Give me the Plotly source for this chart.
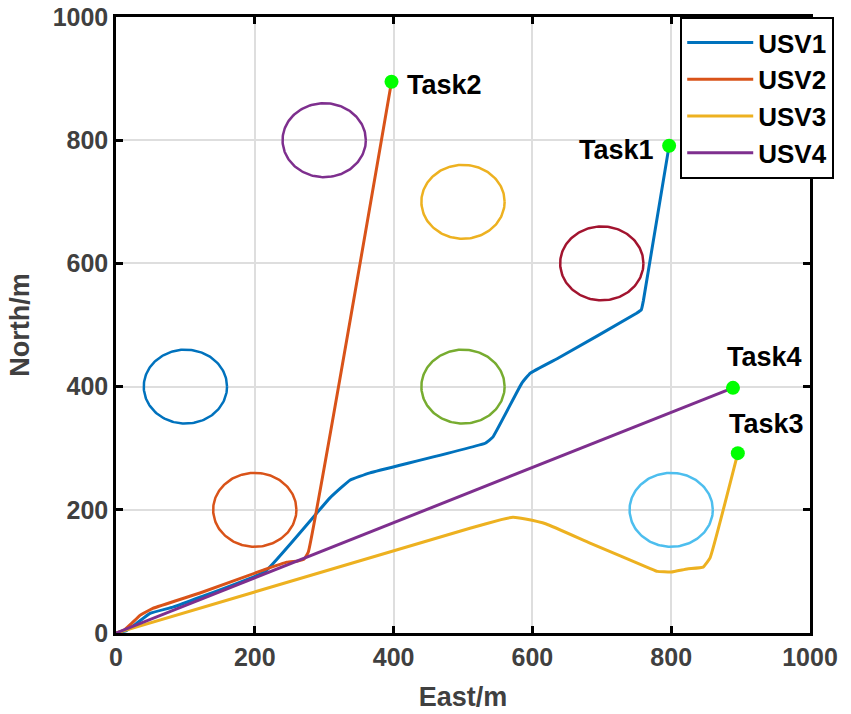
import numpy as np
import plotly.graph_objects as go

# Vehicle trajectories (East, North) in metres
usv1_x = [0, 15, 30, 49, 82, 121, 215, 308, 337, 366, 532, 543, 585, 597, 640, 750, 757, 760, 797]
usv1_y = [0, 4, 16, 32, 42, 58, 100, 219, 248, 260, 308, 318, 406, 422, 448, 519, 525, 540, 791]

usv2_x = [0, 12, 23, 35, 53, 121, 212, 246, 262, 271, 277, 397]
usv2_y = [0, 5, 16, 29, 40, 65, 102, 115, 117, 120, 131, 895]

usv3_x = [0, 510, 555, 572, 590, 620, 683, 769, 780, 800, 823, 846, 856, 896]
usv3_y = [0, 170, 184, 188, 185, 177, 146, 105, 100, 99, 104, 107, 122, 292]

usv4_x = [0, 889]
usv4_y = [0, 398]

# Task points
task_names = ["Task1", "Task2", "Task3", "Task4"]
task_x = [797, 397, 896, 889]
task_y = [791, 895, 292, 398]

# Circular obstacles: centres, radius, colours
obs_x = [100, 200, 300, 500, 500, 700, 800]
obs_y = [400, 200, 800, 700, 400, 600, 200]
obs_r = [60, 60, 60, 60, 60, 60, 60]
obs_colors = ["#0072BD", "#D95319", "#7E2F8E", "#EDB120", "#77AC30", "#A2142F", "#4DBEEE"]

usv_colors = ["#0072BD", "#D95319", "#EDB120", "#7E2F8E"]

FONT = "Liberation Sans, Arial, sans-serif"

fig = go.Figure()

theta = np.linspace(0, 2 * np.pi, 181)
for cx, cy, r, c in zip(obs_x, obs_y, obs_r, obs_colors):
    fig.add_trace(go.Scatter(
        x=cx + r * np.cos(theta), y=cy + r * np.sin(theta),
        mode="lines", line=dict(color=c, width=2.5),
        showlegend=False, hoverinfo="skip"))

paths = [(usv1_x, usv1_y), (usv2_x, usv2_y), (usv3_x, usv3_y), (usv4_x, usv4_y)]
for i, ((px, py), c) in enumerate(zip(paths, usv_colors)):
    fig.add_trace(go.Scatter(
        x=px, y=py, mode="lines", name=f"<b>USV{i + 1}</b>",
        line=dict(color=c, width=3, shape="spline", smoothing=0.3)))

fig.add_trace(go.Scatter(
    x=task_x, y=task_y, mode="markers",
    marker=dict(color="#00FF00", size=14),
    showlegend=False))

label_offsets = {
    "Task1": dict(xanchor="right", xshift=-13, yshift=-4),
    "Task2": dict(xanchor="left", xshift=13, yshift=-3),
    "Task3": dict(xanchor="center", xshift=29, yshift=29),
    "Task4": dict(xanchor="center", xshift=32, yshift=31),
}
for name, tx, ty in zip(task_names, task_x, task_y):
    fig.add_annotation(
        x=tx, y=ty, text=f"<b>{name}</b>", showarrow=False,
        yanchor="middle", font=dict(size=27, color="black", family=FONT),
        **label_offsets[name])

axis_common = dict(
    range=[0, 1000], dtick=200, showgrid=True, gridcolor="#dedede", gridwidth=2,
    zeroline=False, showline=True, linecolor="black", linewidth=2.5,
    mirror="ticks", ticks="inside", ticklen=7, tickwidth=2.5, tickcolor="black",
    tickfont=dict(size=25, color="#404040", family=FONT),
    tickprefix="<b>", ticksuffix="</b>", automargin=False,
)

fig.update_layout(
    width=851, height=714,
    margin=dict(l=116, r=41, t=17, b=81),
    paper_bgcolor="white", plot_bgcolor="white",
    font=dict(family=FONT, color="#404040"),
    xaxis=dict(title=dict(text="<b>East/m</b>", font=dict(size=27, color="#404040"), standoff=18),
               **axis_common),
    yaxis=dict(title=dict(text="<b>North/m</b>", font=dict(size=27, color="#404040"), standoff=16),
               **axis_common),
    legend=dict(
        x=0.813, y=1.0, xanchor="left", yanchor="top",
        bgcolor="white", bordercolor="black", borderwidth=2,
        font=dict(size=26, color="black", family=FONT),
        tracegroupgap=0, itemwidth=66,
    ),
)

fig.write_html("out.html")
